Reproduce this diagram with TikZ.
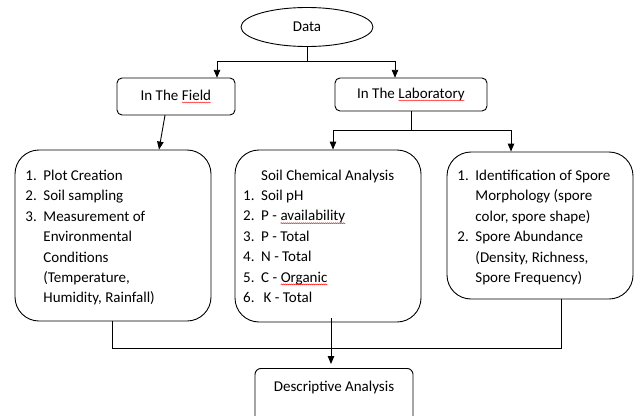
\documentclass[tikz,border=0pt]{standalone}
\usepackage{fontspec}
\setmainfont{Carlito}
\usetikzlibrary{arrows.meta,shapes.geometric,decorations.pathmorphing}
\newcommand{\itm}[1]{\makebox[18pt][l]{#1}}
\newcommand{\cnt}{\hspace*{18pt}}
\newcommand{\sq}[1]{\tikz[baseline=(w.base),x=1cm,y=1cm,sharp corners]{\node[shape=rectangle,draw=none,inner sep=0pt,outer sep=0pt,minimum width=0pt,minimum height=0pt,text height=,text depth=,anchor=center](w){#1};\draw[red,line width=0.4pt,sharp corners,-,decorate,decoration={snake,amplitude=0.5pt,segment length=2pt}]([yshift=-2.2pt]w.base west)--([yshift=-2.2pt]w.base east);}}
\begin{document}
\begin{tikzpicture}[x=1pt,y=-1pt,line width=0.9pt,
  box/.style={draw,rounded corners=5pt,inner sep=0pt,font=\fontsize{15}{18}\selectfont},
  bigbox/.style={draw,rounded corners=24pt,inner sep=0pt},
  arr/.style={-{Triangle[length=8pt,width=6.5pt]}},
  txt/.style={inner sep=0pt,anchor=north west,align=left,font=\fontsize{15}{20.4}\selectfont}]
\useasboundingbox (0,0) rectangle (634,415);

\node[draw,ellipse,inner sep=0pt,minimum width=132pt,minimum height=39pt,font=\fontsize{15}{18}\selectfont] (data) at (307,27) {Data};
\node[box,minimum width=118pt,minimum height=37pt] (field) at (176,96.5) {In The \sq{Field}};
\node[box,minimum width=152pt,minimum height=33pt] (lab) at (411,94.5) {In The \sq{Laboratory}};

\node[bigbox,minimum width=196pt,minimum height=171pt] (left) at (113,235.5) {};
\node[bigbox,minimum width=186pt,minimum height=172pt] (mid) at (328,236) {};
\node[bigbox,minimum width=186pt,minimum height=147pt] (right) at (540,225.5) {};

\node[txt] (lefttext) at (25,165.7) {\strut\itm{1.}Plot Creation\\
\itm{2.}Soil sampling\\
\itm{3.}Measurement of\\
\cnt Environmental\\
\cnt Conditions\\
\cnt (Temperature,\\
\cnt Humidity, Rainfall)};

\node[txt] (midtext) at (243,165.7) {\strut\cnt Soil Chemical Analysis\\
\itm{1.}Soil pH\\
\itm{2.}P - \sq{availability}\\
\itm{3.}P - Total\\
\itm{4.}N - Total\\
\itm{5.}C - \sq{Organic}\\
\itm{6.}\,K - Total};

\node[txt] (righttext) at (457,165.7) {\strut\itm{1.}Identification of Spore\\
\cnt Morphology (spore\\
\cnt color, spore shape)\\
\itm{2.}Spore Abundance\\
\cnt (Density, Richness,\\
\cnt Spore Frequency)};

\node[draw,rounded corners=6pt,anchor=north,minimum width=158pt,inner xsep=0pt,inner ysep=0pt,text height=23pt,text depth=51pt,font=\fontsize{15}{18}\selectfont] (desc) at (334,368) {Descriptive Analysis};

% connectors
\draw[arr] (data.south) -- ++(0,14) -| ([xshift=41pt]field.north);
\draw[arr] (data.south) -- ++(0,14) -| ([xshift=-16pt]lab.north);
\draw[arr] ([xshift=-11pt]field.south) -- ([xshift=46pt]left.north);
\draw[arr] (lab.south) -- ++(0,19) -| ([xshift=5pt]mid.north);
\draw[arr] (lab.south) -- ++(0,19) -| ([xshift=-29pt]right.north);
\draw ([xshift=-1pt]left.south) -- ++(0,27) -| ([xshift=21pt]right.south);
\draw[arr] ([xshift=3pt,yshift=4pt]mid.south) -- ([xshift=-3pt,yshift=4pt]desc.north);
\end{tikzpicture}
\end{document}
